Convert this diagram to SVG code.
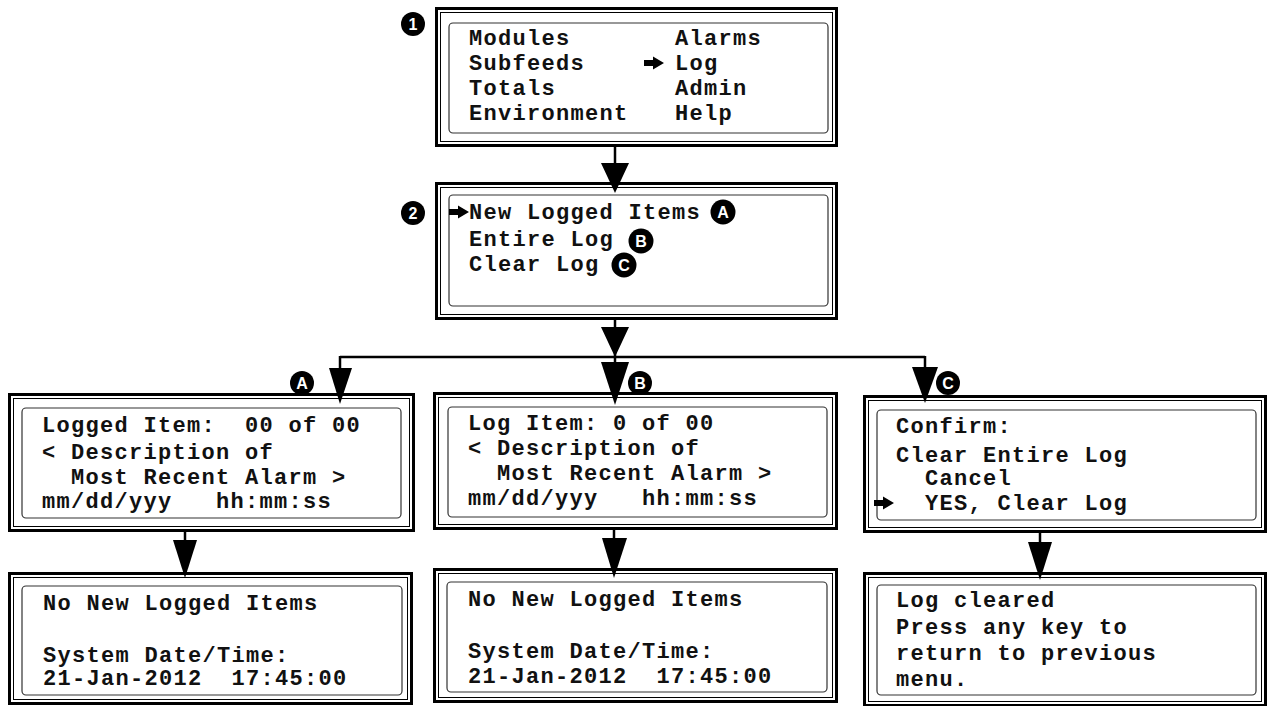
<svg xmlns="http://www.w3.org/2000/svg" width="1269" height="706" viewBox="0 0 1269 706">
<style>
.fo{fill:#fff;stroke:#000;stroke-width:3}
.fi{fill:none;stroke:#000;stroke-width:1}
.sc{fill:none;stroke:#333;stroke-width:1.2}
.t{font-family:"Liberation Mono","Courier New",monospace;font-weight:bold;font-size:22px;letter-spacing:1.3px;fill:#111;white-space:pre}
.bd circle{fill:#000}
.bd text{fill:#fff;font-family:"Liberation Sans",Arial,sans-serif;font-weight:bold;font-size:16px;text-anchor:middle}
.ln{stroke:#000;stroke-width:2.5;fill:none}
.ah{fill:#000}
</style>
<defs>
<path id="ptr" d="M0,-3 H9 V-6.5 L20,0 L9,6.5 V3 H0 Z" fill="#000"/>
</defs>

<g id="node-main-menu">
<rect class="fo" x="436.5" y="8.5" width="400" height="137"/>
<rect class="fi" x="440.5" y="12.5" width="392" height="129"/>
<rect class="sc" x="449" y="23" width="379" height="110" rx="4"/>
<text class="t" x="469" y="45">Modules</text>
<text class="t" x="675" y="45">Alarms</text>
<text class="t" x="469" y="70">Subfeeds</text>
<use href="#ptr" x="644" y="63"/>
<text class="t" x="675" y="70">Log</text>
<text class="t" x="469" y="95">Totals</text>
<text class="t" x="675" y="95">Admin</text>
<text class="t" x="469" y="120">Environment</text>
<text class="t" x="675" y="120">Help</text>
</g>

<g id="node-log-menu">
<rect class="fo" x="436.5" y="183.5" width="400" height="135"/>
<rect class="fi" x="440.5" y="187.5" width="392" height="127"/>
<rect class="sc" x="449" y="195" width="379" height="111" rx="4"/>
<use href="#ptr" x="449" y="212"/>
<text class="t" x="469" y="219">New Logged Items</text>
<text class="t" x="469" y="246">Entire Log</text>
<text class="t" x="469" y="271">Clear Log</text>
</g>

<g id="node-logged-item">
<rect class="fo" x="9.5" y="394.5" width="404" height="136"/>
<rect class="fi" x="13.5" y="398.5" width="396" height="128"/>
<rect class="sc" x="22" y="408" width="379" height="110" rx="4"/>
<text class="t" x="42" y="432">Logged Item:  00 of 00</text>
<text class="t" x="42" y="459">&lt; Description of</text>
<text class="t" x="71" y="484">Most Recent Alarm &gt;</text>
<text class="t" x="42" y="508">mm/dd/yyy   hh:mm:ss</text>
</g>

<g id="node-log-item">
<rect class="fo" x="434.5" y="393.5" width="402" height="135"/>
<rect class="fi" x="438.5" y="397.5" width="394" height="127"/>
<rect class="sc" x="448" y="407" width="379" height="110" rx="4"/>
<text class="t" x="468" y="430">Log Item: 0 of 00</text>
<text class="t" x="468" y="455">&lt; Description of</text>
<text class="t" x="497" y="480">Most Recent Alarm &gt;</text>
<text class="t" x="468" y="505">mm/dd/yyy   hh:mm:ss</text>
</g>

<g id="node-confirm">
<rect class="fo" x="864.5" y="396.5" width="401" height="135"/>
<rect class="fi" x="868.5" y="400.5" width="393" height="127"/>
<rect class="sc" x="877" y="410" width="379" height="110" rx="4"/>
<text class="t" x="896" y="433">Confirm:</text>
<text class="t" x="896" y="462">Clear Entire Log</text>
<text class="t" x="925" y="485">Cancel</text>
<use href="#ptr" x="874" y="503"/>
<text class="t" x="925" y="510">YES, Clear Log</text>
</g>

<g id="node-no-new-a">
<rect class="fo" x="9.5" y="573.5" width="402" height="130"/>
<rect class="fi" x="13.5" y="577.5" width="394" height="122"/>
<rect class="sc" x="22" y="586" width="380" height="109" rx="4"/>
<text class="t" x="43" y="610">No New Logged Items</text>
<text class="t" x="43" y="662">System Date/Time:</text>
<text class="t" x="43" y="685">21-Jan-2012  17:45:00</text>
</g>

<g id="node-no-new-b">
<rect class="fo" x="434.5" y="569.5" width="402" height="132"/>
<rect class="fi" x="438.5" y="573.5" width="394" height="124"/>
<rect class="sc" x="447" y="582" width="380" height="110" rx="4"/>
<text class="t" x="468" y="606">No New Logged Items</text>
<text class="t" x="468" y="658">System Date/Time:</text>
<text class="t" x="468" y="683">21-Jan-2012  17:45:00</text>
</g>

<g id="node-log-cleared">
<rect class="fo" x="864.5" y="573.5" width="401" height="132"/>
<rect class="fi" x="868.5" y="577.5" width="393" height="124"/>
<rect class="sc" x="877" y="585" width="379" height="110" rx="4"/>
<text class="t" x="896" y="607">Log cleared</text>
<text class="t" x="896" y="634">Press any key to</text>
<text class="t" x="896" y="660">return to previous</text>
<text class="t" x="896" y="686">menu.</text>
</g>

<g id="connectors">
<line class="ln" x1="615" y1="146" x2="615" y2="166"/>
<polygon class="ah" points="601,163 629,163 615,193"/>
<line class="ln" x1="615" y1="319" x2="615" y2="365"/>
<polygon class="ah" points="601,327 629,327 615,357"/>
<line class="ln" x1="340" y1="357" x2="925" y2="357"/>
<line class="ln" x1="340" y1="356" x2="340" y2="370"/>
<polygon class="ah" points="329,368 352,368 340,404"/>
<polygon class="ah" points="601,362 629,362 615,405"/>
<line class="ln" x1="925" y1="356" x2="925" y2="369"/>
<polygon class="ah" points="912,367 938,367 925,403"/>
<line class="ln" x1="185" y1="531" x2="185" y2="542"/>
<polygon class="ah" points="173,540 197,540 185,578"/>
<line class="ln" x1="614" y1="529" x2="614" y2="540"/>
<polygon class="ah" points="602,538 627,538 614,578"/>
<line class="ln" x1="1040" y1="532" x2="1040" y2="544"/>
<polygon class="ah" points="1028,542 1052,542 1040,580"/>
</g>

<g id="badges" class="bd">
<g><circle cx="413" cy="24" r="12"/><text x="413" y="30">1</text></g>
<g><circle cx="413" cy="213" r="12"/><text x="413" y="219">2</text></g>
<g><circle cx="723" cy="212" r="12.5"/><text x="723" y="218">A</text></g>
<g><circle cx="641" cy="241" r="12.5"/><text x="641" y="247">B</text></g>
<g><circle cx="624" cy="265" r="12.5"/><text x="624" y="271">C</text></g>
<g><circle cx="302" cy="383" r="12"/><text x="302" y="389">A</text></g>
<g><circle cx="640" cy="383" r="12"/><text x="640" y="389">B</text></g>
<g><circle cx="948" cy="383" r="12"/><text x="948" y="389">C</text></g>
</g>
</svg>
